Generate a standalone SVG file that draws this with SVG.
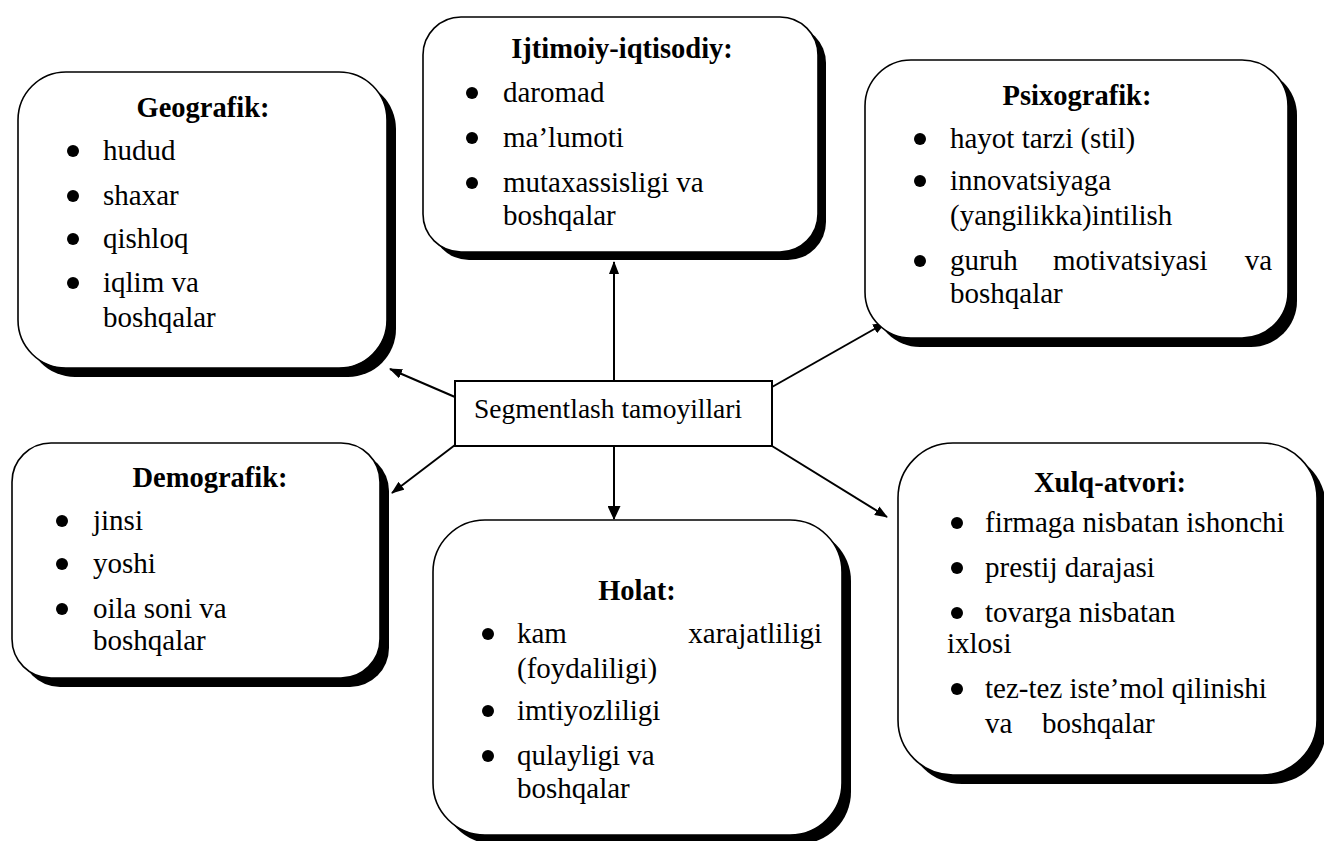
<svg xmlns="http://www.w3.org/2000/svg" width="1324" height="841" viewBox="0 0 1324 841">
<style>
.box{fill:#fff;stroke:#000;stroke-width:1.6}
.sh{fill:#000}
.t{font-family:"Liberation Serif","Times New Roman",serif;font-size:29px;fill:#000}
.h{font-family:"Liberation Serif","Times New Roman",serif;font-size:28.5px;font-weight:bold;fill:#000;text-anchor:middle}
.c{font-family:"Liberation Serif","Times New Roman",serif;font-size:27.5px;fill:#000}
.b{fill:#000}
.ln{stroke:#000;stroke-width:2;fill:none}
</style>
<defs>
<marker id="arr" viewBox="0 0 13 10" refX="12" refY="5" markerWidth="13" markerHeight="10" markerUnits="userSpaceOnUse" orient="auto">
<path d="M0,0 L13,5 L0,10 Z" fill="#000"/>
</marker>
<marker id="arrBig" viewBox="0 0 14 13" refX="13" refY="6.5" markerWidth="14" markerHeight="13" markerUnits="userSpaceOnUse" orient="auto">
<path d="M0,0 L14,6.5 L0,13 Z" fill="#000"/>
</marker>
</defs>

<g id="connectors">
<line class="ln" x1="614" y1="381" x2="614" y2="262" marker-end="url(#arr)"/>
<line class="ln" x1="614" y1="443" x2="614" y2="519" marker-end="url(#arrBig)"/>
<line class="ln" x1="455" y1="397" x2="390" y2="369" marker-end="url(#arr)"/>
<line class="ln" x1="455" y1="445" x2="392" y2="493" marker-end="url(#arr)"/>
<line class="ln" x1="772" y1="387" x2="885" y2="323" marker-end="url(#arr)"/>
<line class="ln" x1="772" y1="446" x2="887" y2="517" marker-end="url(#arr)"/>
</g>

<g id="center">
<rect x="455" y="381" width="317" height="65" fill="#fff" stroke="#000" stroke-width="2"/>
<text class="c" x="474" y="418">Segmentlash tamoyillari</text>
</g>

<g id="geografik">
<rect class="sh" x="27" y="81" width="369" height="296" rx="48"/>
<rect class="box" x="18" y="72" width="369" height="296" rx="48"/>
<text class="h" x="203" y="117">Geografik:</text>
<circle class="b" cx="73" cy="151" r="6"/><text class="t" x="103" y="160">hudud</text>
<circle class="b" cx="73" cy="196" r="6"/><text class="t" x="103" y="205">shaxar</text>
<circle class="b" cx="73" cy="239" r="6"/><text class="t" x="103" y="248">qishloq</text>
<circle class="b" cx="73" cy="283" r="6"/><text class="t" x="103" y="292">iqlim va</text>
<text class="t" x="103" y="327">boshqalar</text>
</g>

<g id="ijtimoiy">
<rect class="sh" x="431" y="25" width="395" height="235" rx="38"/>
<rect class="box" x="423" y="17" width="395" height="235" rx="38"/>
<text class="h" x="622" y="58">Ijtimoiy-iqtisodiy:</text>
<circle class="b" cx="472" cy="93" r="6"/><text class="t" x="503" y="102">daromad</text>
<circle class="b" cx="472" cy="138" r="6"/><text class="t" x="503" y="147">ma’lumoti</text>
<circle class="b" cx="472" cy="183" r="6"/><text class="t" x="503" y="192">mutaxassisligi va</text>
<text class="t" x="503" y="225">boshqalar</text>
</g>

<g id="psixografik">
<rect class="sh" x="874" y="69" width="423" height="278" rx="46"/>
<rect class="box" x="865" y="60" width="423" height="278" rx="46"/>
<text class="h" x="1077" y="105">Psixografik:</text>
<circle class="b" cx="920" cy="139" r="6"/><text class="t" x="950" y="148">hayot tarzi (stil)</text>
<circle class="b" cx="920" cy="181" r="6"/><text class="t" x="950" y="190">innovatsiyaga</text>
<text class="t" x="950" y="225">(yangilikka)intilish</text>
<circle class="b" cx="920" cy="261" r="6"/><text class="t" x="950" y="270">guruh</text>
<text class="t" x="1053" y="270">motivatsiyasi</text>
<text class="t" x="1272" y="270" text-anchor="end">va</text>
<text class="t" x="950" y="303">boshqalar</text>
</g>

<g id="demografik">
<rect class="sh" x="21" y="452" width="368" height="235" rx="39"/>
<rect class="box" x="12" y="443" width="368" height="235" rx="39"/>
<text class="h" x="210" y="487">Demografik:</text>
<circle class="b" cx="62" cy="521" r="6"/><text class="t" x="93" y="530">jinsi</text>
<circle class="b" cx="62" cy="564" r="6"/><text class="t" x="93" y="573">yoshi</text>
<circle class="b" cx="62" cy="609" r="6"/><text class="t" x="93" y="618">oila soni va</text>
<text class="t" x="93" y="650">boshqalar</text>
</g>

<g id="holat">
<rect class="sh" x="442" y="529" width="409" height="315" rx="52"/>
<rect class="box" x="433" y="520" width="409" height="315" rx="52"/>
<text class="h" x="637" y="600">Holat:</text>
<circle class="b" cx="488" cy="634" r="6"/><text class="t" x="517" y="643">kam</text>
<text class="t" x="822" y="643" text-anchor="end">xarajatliligi</text>
<text class="t" x="517" y="678">(foydaliligi)</text>
<circle class="b" cx="488" cy="711" r="6"/><text class="t" x="517" y="720">imtiyozliligi</text>
<circle class="b" cx="488" cy="756" r="6"/><text class="t" x="517" y="765">qulayligi va</text>
<text class="t" x="517" y="798">boshqalar</text>
</g>

<g id="xulq-atvori">
<rect class="sh" x="907" y="452" width="419" height="332" rx="55"/>
<rect class="box" x="898" y="443" width="419" height="332" rx="55"/>
<text class="h" x="1110" y="492">Xulq-atvori:</text>
<circle class="b" cx="957" cy="523" r="6"/><text class="t" x="985" y="532">firmaga nisbatan ishonchi</text>
<circle class="b" cx="957" cy="568" r="6"/><text class="t" x="985" y="577">prestij darajasi</text>
<circle class="b" cx="957" cy="613" r="6"/><text class="t" x="985" y="622">tovarga nisbatan</text>
<text class="t" x="947" y="653">ixlosi</text>
<circle class="b" cx="957" cy="689" r="6"/><text class="t" x="985" y="698">tez-tez iste’mol qilinishi</text>
<text class="t" x="985" y="733">va</text>
<text class="t" x="1042" y="733">boshqalar</text>
</g>
</svg>
